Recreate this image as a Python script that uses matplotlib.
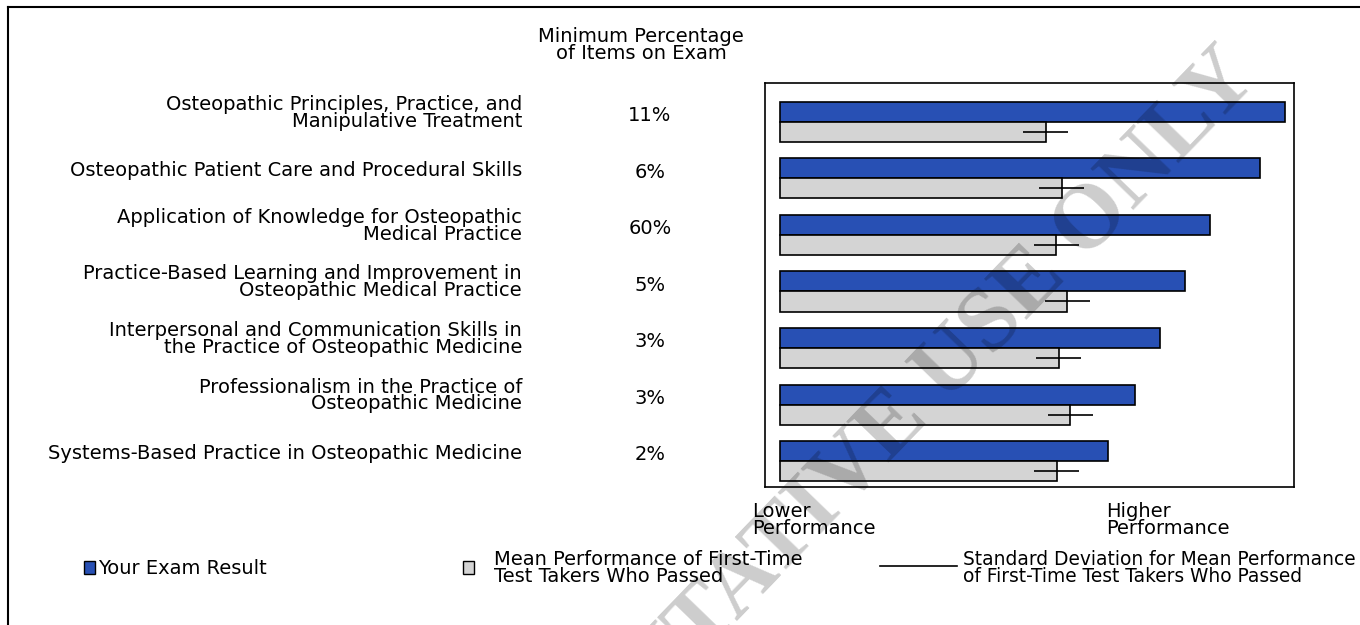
import matplotlib
matplotlib.use('Agg')
import matplotlib.pyplot as plt
import matplotlib.transforms as mtransforms
from matplotlib.patches import Rectangle
from matplotlib.lines import Line2D
import numpy as np

plt.rcParams['font.family'] = ['DejaVu Sans']

# data
categories = [
    'Osteopathic Principles, Practice, and\nManipulative Treatment',
    'Osteopathic Patient Care and Procedural Skills',
    'Application of Knowledge for Osteopathic\nMedical Practice',
    'Practice-Based Learning and Improvement in\nOsteopathic Medical Practice',
    'Interpersonal and Communication Skills in\nthe Practice of Osteopathic Medicine',
    'Professionalism in the Practice of\nOsteopathic Medicine',
    'Systems-Based Practice in Osteopathic Medicine',
]
min_pct = ['11%', '6%', '60%', '5%', '3%', '3%', '2%']
your_score = [101.0, 96.0, 86.0, 81.0, 76.0, 71.0, 65.6]
mean_passed = [53.1, 56.3, 55.2, 57.4, 55.7, 58.0, 55.3]
sd_passed = [4.5, 4.5, 4.5, 4.5, 4.5, 4.5, 4.5]

blue = '#2850b4'
gray = '#d4d4d4'
fs = 14
ls = 0.86

W, H = 1360, 625
fig = plt.figure(figsize=(13.6, 6.25), dpi=100)

def fx(x):
    return x / W

def fy(y):
    return 1 - y / H

# bar panel
ax = fig.add_axes([fx(765), fy(487), (1294 - 765) / W, (487 - 83) / H])
y = np.arange(len(categories))
h = 0.354
ax.barh(y - h / 2, your_score, height=h, color=blue, edgecolor='black', lw=1.2)
ax.barh(y + h / 2, mean_passed, height=h, color=gray, edgecolor='black', lw=1.2)
ax.errorbar(mean_passed, y + h / 2, xerr=sd_passed, fmt='none',
            ecolor='black', elinewidth=1.2, capsize=0)
ax.set_xlim(-3, 102.8)
ax.set_ylim(6.46, -0.69)
ax.set_xticks([])
ax.set_yticks([])
for s in ax.spines.values():
    s.set_linewidth(1.2)

trans = mtransforms.blended_transform_factory(fig.transFigure, ax.transData)
for i, (cat, pct) in enumerate(zip(categories, min_pct)):
    ax.text(fx(522), i - h / 2, cat, transform=trans, ha='right',
            va='center_baseline', fontsize=fs, linespacing=ls, clip_on=False)
    ax.text(fx(650), i - h / 2 + 0.07, pct, transform=trans, ha='center',
            va='center', fontsize=fs, clip_on=False)

fig.text(fx(641), fy(45), 'Minimum Percentage\nof Items on Exam', ha='center',
         va='center', multialignment='center', fontsize=fs, linespacing=ls)
fig.text(fx(752), fy(502), 'Lower\nPerformance', ha='left', va='top',
         fontsize=fs, linespacing=ls)
fig.text(fx(1106), fy(502), 'Higher\nPerformance', ha='left', va='top',
         fontsize=fs, linespacing=ls)

# legend
fig.patches.append(Rectangle((fx(84), fy(574)), 11 / W, 13 / H,
                             transform=fig.transFigure, fc=blue, ec='black', lw=1))
fig.text(fx(98), fy(567), 'Your Exam Result', ha='left', va='center_baseline', fontsize=fs)
fig.patches.append(Rectangle((fx(463), fy(574)), 11 / W, 13 / H,
                             transform=fig.transFigure, fc=gray, ec='black', lw=1))
fig.text(fx(494), fy(567), 'Mean Performance of First-Time\nTest Takers Who Passed',
         ha='left', va='center_baseline', fontsize=fs, linespacing=ls)
fig.lines.append(Line2D([fx(880), fx(957)], [fy(566), fy(566)],
                        transform=fig.transFigure, color='black', lw=1.2))
fig.text(fx(963), fy(567), 'Standard Deviation for Mean Performance\nof First-Time Test Takers Who Passed',
         ha='left', va='center_baseline', fontsize=13.4, linespacing=0.9)

# page border (top and left edges only are inside the crop)
fig.lines.append(Line2D([fx(8), fx(8)], [fy(7), 0], transform=fig.transFigure,
                        color='black', lw=1.5))
fig.lines.append(Line2D([fx(8), 1], [fy(7), fy(7)], transform=fig.transFigure,
                        color='black', lw=1.5))

# watermark
fig.text(fx(1260), fy(80), 'REPRESENTATIVE USE ONLY', rotation=46,
         rotation_mode='anchor', ha='right', va='baseline', fontsize=65,
         family='Liberation Serif', weight='bold', color='black', alpha=0.2,
         zorder=10)

fig.savefig('out.png', dpi=100)
